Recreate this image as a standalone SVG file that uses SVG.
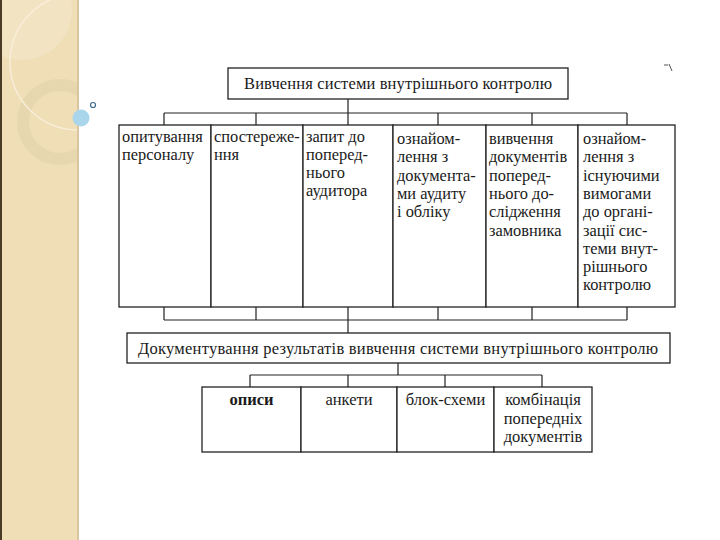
<svg xmlns="http://www.w3.org/2000/svg" width="720" height="540" viewBox="0 0 720 540">
<style>
.box{fill:#fff;stroke:#222;stroke-width:1.3}
.ln{fill:none;stroke:#222;stroke-width:1.2}
.t{font-size:16.4px;fill:#1a1a1a}
.h{font-size:16.5px;text-anchor:middle;fill:#1a1a1a}
.c{font-size:16.5px;text-anchor:middle;fill:#1a1a1a}
</style>
<rect width="720" height="540" fill="#fff"/>
<g id="decor">
<rect x="0" y="0" width="79" height="540" fill="#efdeb6"/>
<circle cx="22" cy="10" r="50" fill="#f3e6c8" opacity="0.7"/>
<circle cx="60" cy="122" r="37" fill="none" stroke="#e5d4ae" stroke-width="12" opacity="0.8"/>
<circle cx="78" cy="62" r="68" fill="none" stroke="#f8f0dc" stroke-width="1.5" opacity="0.9"/>
<rect x="79" y="0" width="641" height="540" fill="#fff"/>
<rect x="0" y="0" width="2" height="540" fill="#4a3b26"/>
<rect x="77" y="0" width="2" height="540" fill="#d9c5a0"/>
<circle cx="81" cy="118" r="8.5" fill="#a9d6ea"/>
<circle cx="93" cy="105" r="2.5" fill="#fff" stroke="#3d6a8a" stroke-width="1.2"/>
<path d="M664 65 L668 65 M669 64 L672 71" stroke="#555" stroke-width="1" fill="none"/>
</g>
<g id="connectors">
<path class="ln" d="M348 99 V113 M164 113 H627 M164 113 V125 M256 113 V125 M348 113 V125 M438 113 V125 M532 113 V125 M627 113 V125"/>
<path class="ln" d="M164 307 V320 M256 307 V320 M348 307 V333 M438 307 V320 M532 307 V320 M627 307 V320 M164 320 H627"/>
<path class="ln" d="M398 363 V375 M250 375 H542 M250 375 V387 M348 375 V387 M445 375 V387 M542 375 V387"/>
</g>
<g font-family="'Liberation Serif', 'Times New Roman', 'DejaVu Serif', serif">
<g id="n-top">
<rect class="box" x="228" y="68" width="340" height="31"/>
<text class="h" x="398" y="89" textLength="308" lengthAdjust="spacing">Вивчення системи внутрішнього контролю</text>
</g>
<g id="n1">
<rect class="box" x="119" y="125" width="92" height="182"/>
<text class="t" x="122" y="142">опитування</text>
<text class="t" x="122" y="160">персоналу</text>
</g>
<g id="n2">
<rect class="box" x="211" y="125" width="92" height="182"/>
<text class="t" x="214" y="142">спостереже-</text>
<text class="t" x="214" y="160">ння</text>
</g>
<g id="n3">
<rect class="box" x="303" y="125" width="90" height="182"/>
<text class="t" x="306" y="142">запит до</text>
<text class="t" x="306" y="160">поперед-</text>
<text class="t" x="306" y="178">нього</text>
<text class="t" x="306" y="196">аудитора</text>
</g>
<g id="n4">
<rect class="box" x="393" y="125" width="93" height="182"/>
<text class="t" x="397" y="144">ознайом-</text>
<text class="t" x="397" y="162.3">лення з</text>
<text class="t" x="397" y="180.6">документа-</text>
<text class="t" x="397" y="198.9">ми аудиту</text>
<text class="t" x="397" y="217.2">і обліку</text>
</g>
<g id="n5">
<rect class="box" x="486" y="125" width="92" height="182"/>
<text class="t" x="489" y="144">вивчення</text>
<text class="t" x="489" y="162.3">документів</text>
<text class="t" x="489" y="180.6">поперед-</text>
<text class="t" x="489" y="198.9">нього до-</text>
<text class="t" x="489" y="217.2">слідження</text>
<text class="t" x="489" y="235.5">замовника</text>
</g>
<g id="n6">
<rect class="box" x="578" y="125" width="97" height="182"/>
<text class="t" x="583" y="144">ознайом-</text>
<text class="t" x="583" y="162.3">лення з</text>
<text class="t" x="583" y="180.6">існуючими</text>
<text class="t" x="583" y="198.9">вимогами</text>
<text class="t" x="583" y="217.2">до органі-</text>
<text class="t" x="583" y="235.5">зації сис-</text>
<text class="t" x="583" y="253.8">теми внут-</text>
<text class="t" x="583" y="272.1">рішнього</text>
<text class="t" x="583" y="290.4">контролю</text>
</g>
<g id="n-doc">
<rect class="box" x="127" y="333" width="543" height="30"/>
<text class="h" x="398" y="354" textLength="520" lengthAdjust="spacing">Документування результатів вивчення системи внутрішнього контролю</text>
</g>
<g id="b1">
<rect class="box" x="202" y="387" width="99" height="65"/>
<text class="c" x="251.5" y="405" font-weight="bold">описи</text>
</g>
<g id="b2">
<rect class="box" x="301" y="387" width="96" height="65"/>
<text class="c" x="349" y="405">анкети</text>
</g>
<g id="b3">
<rect class="box" x="397" y="387" width="97" height="65"/>
<text class="c" x="445.5" y="405">блок-схеми</text>
</g>
<g id="b4">
<rect class="box" x="494" y="387" width="98" height="65"/>
<text class="c" x="543" y="405">комбінація</text>
<text class="c" x="543" y="423.5">попередніх</text>
<text class="c" x="543" y="442">документів</text>
</g>
</g>
</svg>
